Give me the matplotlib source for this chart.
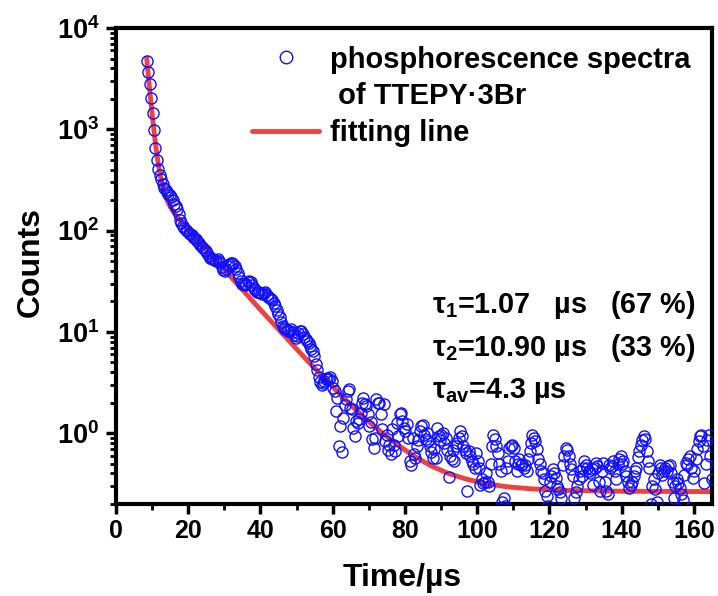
import numpy as np
import matplotlib.pyplot as plt
from matplotlib.lines import Line2D
from matplotlib.ticker import LogLocator, MultipleLocator

plt.rcParams['font.family'] = ['Liberation Sans', 'DejaVu Sans']
plt.rcParams['font.weight'] = 'bold'
plt.rcParams['mathtext.fontset'] = 'custom'
plt.rcParams['mathtext.rm'] = 'Liberation Sans:bold'
plt.rcParams['mathtext.it'] = 'Liberation Sans:bold'
plt.rcParams['mathtext.bf'] = 'Liberation Sans:bold'

# measured decay: time channels start at 8.5 us, one every 0.4 us
t_start = 8.5
t_step = 0.4
counts = [
    4745, 3690, 2830, 2060, 1450, 980, 660, 500, 410, 350,
    320, 290, 265, 250, 240, 232, 225, 215, 200, 185,
    175, 165, 145, 128, 118, 110, 105, 102, 98, 95,
    92, 90, 87, 84, 82, 79, 76, 72, 69, 67,
    65, 63, 60, 56, 54, 53, 52, 51, 50, 52,
    50, 48, 44, 41, 40, 42, 45, 47, 48, 48,
    47, 45, 42, 38, 35, 32, 30, 29.5, 29, 30,
    31, 31.5, 31, 29, 27, 26, 25, 25, 24.5, 24,
    23.5, 24, 24.5, 23, 22, 21.5, 21, 20.5, 19.5, 18,
    16.5, 15, 14, 12.5, 11.5, 11, 10.8, 10.5, 10.3, 10.2,
    10.6, 10, 9.3, 8.8, 9.2, 9.8, 10.2, 10.2, 9.5, 9,
    8.5, 8.1, 7.8, 7.3, 6.8, 6.5, 5.8, 4.8, 4.2, 3.6,
    3.2, 3.0, 3.1, 3.3, 3.4, 3.5, 3.4, 3.6, 3.3, 2.8,
    2.6, 1.65, 2.2, 0.75, 1.17, 0.65, 1.42, 1.9, 2.16, 2.6,
    2.7, 1.78, 1.72, 1.13, 0.93, 1.31, 1.26, 1.37, 1.6, 2.0,
    2.24, 1.92, 1.85, 1.53, 1.17, 1.3, 0.87, 0.72, 0.9, 2.16,
    2.0, 2.0, 1.53, 1.09, 1.92, 0.83, 0.97, 0.69, 0.77, 0.62,
    1.1, 0.77, 0.66, 1.26, 0.93, 1.53, 1.59, 1.31, 1.13, 1.05,
    1.22, 0.9, 0.53, 0.49, 0.9, 0.62, 0.57, 0.74, 0.85, 1.05,
    1.17, 1.2, 0.95, 0.88, 1.01, 0.83, 0.75, 0.65, 0.57, 0.7,
    0.57, 1.13, 0.93, 0.85, 0.95, 1.01, 0.8, 0.9, 0.69, 0.37,
    0.6, 0.55, 0.69, 0.53, 0.74, 0.8, 0.9, 1.05, 0.93, 0.74,
    0.68, 0.64, 0.27, 0.66, 0.6, 0.53, 0.5, 0.45, 0.64, 0.53,
    0.45, 0.31, 0.35, 0.32, 0.33, 0.4, 0.33, 0.3, 0.5, 0.74,
    0.97, 0.87, 0.75, 0.64, 0.5, 0.42, 0.21, 0.23, 0.19, 0.45,
    0.53, 0.72, 0.75, 0.77, 0.72, 0.53, 0.42, 0.5, 0.55, 0.48,
    0.5, 0.45, 0.48, 0.42, 0.55, 0.66, 0.8, 0.97, 0.9, 0.83,
    0.7, 0.55, 0.5, 0.42, 0.4, 0.35, 0.27, 0.24, 0.19, 0.33,
    0.38, 0.44, 0.4, 0.36, 0.3, 0.28, 0.26, 0.23, 0.49, 0.6,
    0.72, 0.68, 0.59, 0.5, 0.44, 0.38, 0.23, 0.26, 0.3, 0.35,
    0.42, 0.38, 0.45, 0.53, 0.48, 0.45, 0.42, 0.4, 0.44, 0.31,
    0.45, 0.51, 0.47, 0.33, 0.27, 0.42, 0.51, 0.33, 0.27, 0.25,
    0.49, 0.45, 0.47, 0.53, 0.42, 0.35, 0.5, 0.55, 0.59, 0.5,
    0.53, 0.42, 0.38, 0.33, 0.29, 0.31, 0.33, 0.38, 0.42, 0.45,
    0.58, 0.66, 0.77, 0.85, 0.93, 0.87, 0.66, 0.53, 0.45, 0.2,
    0.3, 0.35, 0.28, 0.21, 0.4, 0.49, 0.45, 0.39, 0.42, 0.45,
    0.42, 0.47, 0.49, 0.4, 0.33, 0.23, 0.3, 0.35, 0.32, 0.29,
    0.25, 0.22, 0.39, 0.51, 0.48, 0.55, 0.59, 0.45, 0.36, 0.42,
    0.55, 0.7, 0.83, 0.93, 0.95, 0.74, 0.32, 0.5, 0.85, 0.95,
    0.6, 0.35,
]
time = t_start + t_step * np.arange(len(counts))

# fitted curve
fit_time = [8.5, 8.75, 9.0, 9.25, 9.5, 9.75, 10.0, 10.5, 11.0, 11.5, 12.0,
            12.5, 13.0, 13.5, 14.0, 15.0, 16.0, 17.0, 18.0, 20.0, 22.0,
            25.0, 28.0, 30.0, 33.0, 36.0, 39.0, 42.0, 45.0, 48.0, 51.0,
            54.0, 57.0, 60.0, 63.0, 66.0, 70.0, 74.0, 78.0, 82.0, 87.0,
            92.0, 97.0, 102.0, 108.0, 115.0, 125.0, 140.0, 165.0]
fit_counts = [5000, 4017, 3232, 2610, 2118, 1727, 1415, 971, 689, 508, 391,
              315, 264, 229, 205, 172, 151, 136, 123, 102, 85,
              64.5, 49.2, 41, 31.2, 23.8, 18.1, 13.8, 10.6, 8.1, 6.2,
              4.77, 3.69, 2.87, 2.23, 1.76, 1.30, 0.985, 0.765, 0.61, 0.48,
              0.40, 0.352, 0.32, 0.296, 0.282, 0.272, 0.267, 0.265]

fig = plt.figure(figsize=(7.18, 5.96), dpi=100)
ax = fig.add_axes([0.1616, 0.1544, 0.8300, 0.7986])

ax.plot(fit_time, fit_counts, '-', color='#ef4141', lw=3.5, zorder=2)
ax.plot(time, counts, 'o', mfc='none', mec='#1010ff', ms=8, mew=1.0, zorder=3)

ax.set_yscale('log')
ax.set_xlim(0, 165)
ax.set_ylim(0.2, 1e4)
ax.xaxis.set_major_locator(MultipleLocator(20))
ax.xaxis.set_minor_locator(MultipleLocator(10))
ax.yaxis.set_major_locator(LogLocator(base=10, numticks=10))
ax.yaxis.set_minor_locator(LogLocator(base=10, subs=np.arange(2, 10), numticks=20))

for s in ax.spines.values():
    s.set_linewidth(3)
ax.tick_params(which='major', direction='out', length=7, width=2.5, labelsize=18, pad=5)
ax.tick_params(which='minor', direction='out', length=4, width=2)
ax.tick_params(axis='x', pad=4)
ax.tick_params(axis='y', labelsize=19.5)

ax.set_xlabel('Time/µs', fontsize=23, fontweight='bold', labelpad=14)
ax.set_ylabel('Counts', fontsize=23, fontweight='bold', labelpad=8)
ax.xaxis.label.set_x(0.48)
ax.yaxis.label.set_y(0.508)

handles = [
    Line2D([], [], ls='none', marker='o', mfc='none', mec='#1010ff', ms=9, mew=1.0),
    Line2D([], [], ls='none'),
    Line2D([], [], color='#ef4141', lw=3.5, solid_capstyle='round'),
]
labels = ['phosphorescence spectra', ' of TTEPY·3Br', 'fitting line']
ax.legend(handles, labels, loc='upper left', bbox_to_anchor=(0.197, 1.003),
          frameon=False, fontsize=21, handlelength=2.3, handletextpad=0.35,
          labelspacing=0.3, borderaxespad=0.25)

txt = dict(transform=ax.transAxes, fontsize=20.7, fontweight='bold', ha='left', va='center')
ax.text(0.530, 0.418, 'τ$_1$=1.07   µs   (67 %)', **txt)
ax.text(0.530, 0.328, 'τ$_2$=10.90 µs   (33 %)', **txt)
ax.text(0.530, 0.238, 'τ$_{av}$=4.3 µs', **txt)

fig.savefig('out.png', dpi=100)
